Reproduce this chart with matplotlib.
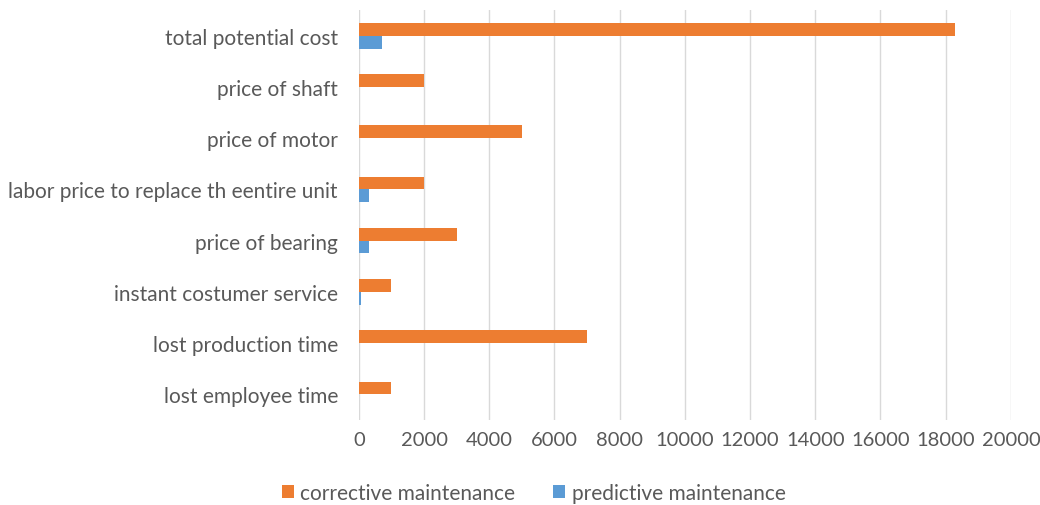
import matplotlib.pyplot as plt
import numpy as np

categories = ['lost employee time', 'lost production time', 'instant costumer service',
              'price of bearing', 'labor price to replace th eentire unit',
              'price of motor', 'price of shaft', 'total potential cost']
corrective = [1000, 7000, 1000, 3000, 2000, 5000, 2000, 18300]
predictive = [0, 0, 80, 300, 300, 0, 0, 700]
x_ticks = np.arange(0, 20001, 2000)

plt.rcParams['font.family'] = ['Lato', 'DejaVu Sans']
text_color = '#595959'

fig = plt.figure(figsize=(10.4, 5.06), dpi=100)
ax = fig.add_axes([0.345, 0.168, 0.627, 0.81])

y = np.arange(len(categories))
h = 0.25
ax.barh(y + h / 2, corrective, height=h, color='#ED7D31', label='corrective maintenance', zorder=3)
ax.barh(y - h / 2, predictive, height=h, color='#5B9BD5', label='predictive maintenance', zorder=3)

ax.set_xlim(0, 20000)
ax.set_ylim(-0.5, len(categories) - 0.5)
ax.set_xticks(x_ticks)
ax.set_yticks(y)
ax.set_yticklabels(categories)
ax.grid(axis='x', color='#D9D9D9', linewidth=1, zorder=0)
for s in ax.spines.values():
    s.set_visible(False)
ax.tick_params(axis='y', length=0, labelsize=15, labelcolor=text_color, pad=15)
ax.tick_params(axis='x', length=0, labelsize=14.5, labelcolor=text_color, pad=8)

fig.legend(loc='center', bbox_to_anchor=(0.513, 0.024), ncol=2, frameon=False,
           fontsize=15, labelcolor=text_color, handlelength=0.6, handleheight=0.6,
           handletextpad=0.3, columnspacing=1.8, borderpad=0)

fig.savefig('out.png', dpi=100)
